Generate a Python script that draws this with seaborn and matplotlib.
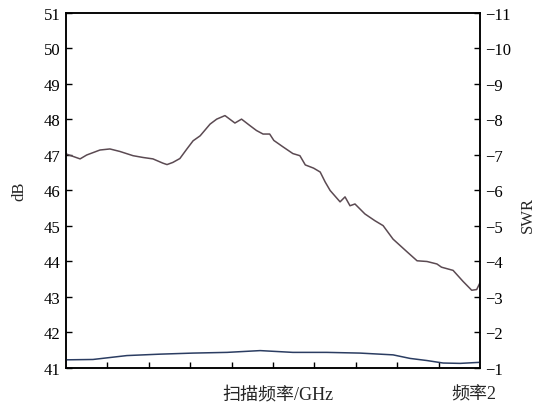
import matplotlib
matplotlib.use("Agg")
import matplotlib.pyplot as plt
import seaborn as sns
import pandas as pd

# Gain trace (left axis, dB) across the swept band
gain_x = [0.0, 0.34, 0.50, 0.82, 1.06, 1.30, 1.62, 1.86, 2.10, 2.34, 2.44, 2.58,
          2.75, 2.92, 3.07, 3.24, 3.48, 3.64, 3.84, 4.08, 4.24, 4.44, 4.60, 4.76,
          4.92, 5.02, 5.24, 5.48, 5.65, 5.78, 5.98, 6.14, 6.26, 6.38, 6.62, 6.74,
          6.86, 6.98, 7.22, 7.46, 7.66, 7.90, 8.24, 8.48, 8.72, 8.96, 9.07, 9.35,
          9.59, 9.80, 9.92, 10.0]
gain_db = [47.03, 46.89, 47.00, 47.14, 47.17, 47.10, 46.98, 46.93, 46.89, 46.77,
           46.73, 46.79, 46.90, 47.17, 47.40, 47.54, 47.87, 48.01, 48.11, 47.90,
           48.01, 47.83, 47.69, 47.59, 47.59, 47.41, 47.23, 47.04, 46.98, 46.72,
           46.63, 46.52, 46.24, 46.00, 45.68, 45.82, 45.57, 45.62, 45.34, 45.15,
           45.01, 44.63, 44.27, 44.02, 44.00, 43.93, 43.84, 43.75, 43.44, 43.19,
           43.21, 43.40]

# Standing wave ratio trace (right axis)
swr_x = [0.0, 0.65, 1.47, 2.27, 3.07, 3.89, 4.69, 5.48, 6.30, 7.10, 7.90,
         8.31, 8.72, 9.11, 9.52, 10.0]
swr = [-1.23, -1.24, -1.35, -1.39, -1.42, -1.44, -1.49, -1.44, -1.44, -1.42,
       -1.37, -1.27, -1.21, -1.14, -1.13, -1.16]

db_ticks = list(range(41, 52))
swr_ticks = list(range(-1, -12, -1))
x_ticks = list(range(1, 10))

sns.set_theme(style="ticks")
plt.rcParams["font.family"] = ["Liberation Serif", "Noto Sans CJK SC"]
plt.rcParams["axes.unicode_minus"] = True

fig = plt.figure(figsize=(5.46, 4.10), dpi=100)
ax = fig.add_axes([0.1209, 0.1, 0.7582, 0.8659])
ax2 = ax.twinx()

gain_df = pd.DataFrame({"x": gain_x, "dB": gain_db})
swr_df = pd.DataFrame({"x": swr_x, "SWR": swr})

sns.lineplot(data=gain_df, x="x", y="dB", ax=ax, color="#5b4a52", lw=1.1)
sns.lineplot(data=swr_df, x="x", y="SWR", ax=ax2, color="#2b3d62", lw=1.1)

ax.set_xlim(0, 10)
ax.set_ylim(41, 51)
ax2.set_ylim(-1, -11)

ax.set_yticks(db_ticks)
ax.set_yticklabels([str(v) for v in db_ticks])
ax2.set_yticks(swr_ticks)
ax2.set_yticklabels(["\u2212" + str(-v) for v in swr_ticks])
ax.set_xticks(x_ticks)
ax.set_xticklabels([])

for a in (ax, ax2):
    for s in a.spines.values():
        s.set_visible(True)
        s.set_linewidth(1.1)
        s.set_color("black")
    a.tick_params(direction="in", length=4, width=1.0, colors="black",
                  labelsize=12, pad=4)
    a.grid(False)

ax.set_ylabel("dB", fontsize=12)
ax.yaxis.set_label_coords(-0.094, 0.5)
ax2.set_ylabel("SWR", fontsize=12)
ax2.yaxis.set_label_coords(1.097, 0.434)
ax.set_xlabel("扫描频率/GHz", fontsize=13, va="center")
ax.xaxis.set_label_coords(0.513, -0.073)
ax.text(9.84, -0.073, "频率2", transform=ax.get_xaxis_transform(),
        ha="center", va="center", fontsize=13)

fig.savefig("out.png", dpi=100)
